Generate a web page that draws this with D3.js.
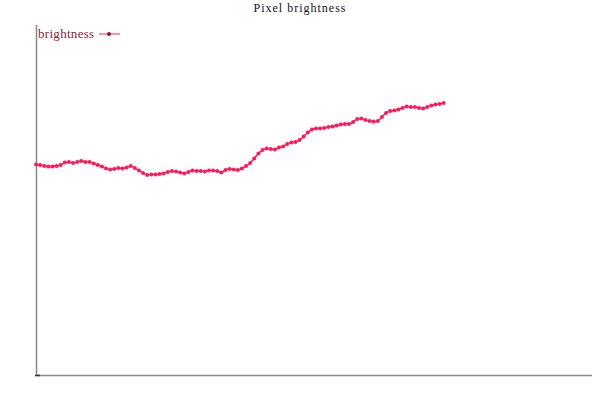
<!DOCTYPE html>
<html><head><meta charset="utf-8">
<script src="https://cdn.jsdelivr.net/npm/d3@7"></script>
<style>body{margin:0;background:#fff}svg{display:block}</style>
</head><body>
<script>
const title = "Pixel brightness";
const seriesName = "brightness";
const brightness = [153.4,153.0,152.3,151.9,151.9,152.3,153.0,154.8,155.2,154.5,
155.2,155.9,155.2,155.2,154.1,153.0,151.9,150.5,149.7,150.1,
150.8,150.5,151.2,152.3,150.8,149.0,147.2,145.7,146.1,146.1,
146.5,146.8,147.9,148.6,148.3,147.5,146.8,147.9,149.0,148.6,
148.6,148.3,149.0,149.0,148.6,147.5,149.4,150.1,149.7,149.4,
150.5,152.3,154.5,157.7,161.4,163.9,165.0,164.7,164.3,165.8,
166.5,168.3,169.4,169.8,171.2,173.8,176.7,178.9,179.6,179.6,
180.0,180.7,181.1,181.8,182.5,182.9,182.9,184.3,186.5,186.9,
185.8,185.1,184.7,185.1,188.0,190.9,192.4,192.7,193.4,194.5,
195.6,195.3,195.3,194.5,194.2,195.3,196.4,197.1,197.5,198.2];
const frames = brightness.map((_, i) => i);
const xDomain = [0, 135];
const yDomain = [0, 255];

const W = 600, H = 400;
const m = {left: 36, right: 8, top: 25, bottom: 25};
const svg = d3.select("body").append("svg").attr("width", W).attr("height", H);

const x = d3.scaleLinear().domain(xDomain).range([m.left, W - m.right]);
const y = d3.scaleLinear().domain(yDomain).range([H - m.bottom, m.top]);

svg.append("text").attr("x", W/2).attr("y", 12).attr("text-anchor", "middle")
  .attr("font-family", "Liberation Serif, serif").attr("font-size", 12).attr("fill", "#111")
  .attr("letter-spacing", 1)
  .text(title);

// axes
svg.append("line").attr("x1", m.left + 0.5).attr("x2", m.left + 0.5)
  .attr("y1", m.top).attr("y2", H - m.bottom).attr("stroke", "#888").attr("stroke-width", 1.5);
svg.append("line").attr("x1", m.left).attr("x2", W - m.right)
  .attr("y1", H - m.bottom + 0.5).attr("y2", H - m.bottom + 0.5).attr("stroke", "#888").attr("stroke-width", 1.5);
svg.append("line").attr("x1", m.left - 1).attr("x2", m.left + 4)
  .attr("y1", H - m.bottom + 0.5).attr("y2", H - m.bottom + 0.5).attr("stroke", "#333").attr("stroke-width", 1.5);

const color = "#ff1a5c";
const line = d3.line().x((d, i) => x(frames[i])).y(d => y(d)).curve(d3.curveMonotoneX);
svg.append("path").datum(brightness).attr("d", line)
  .attr("fill", "none").attr("stroke", color).attr("stroke-width", 1.5);
svg.append("g").selectAll("circle").data(brightness).join("circle")
  .attr("cx", (d, i) => x(frames[i])).attr("cy", d => y(d)).attr("r", 2)
  .attr("fill", color);

// legend
const lg = svg.append("g");
lg.append("text").attr("x", 38).attr("y", 38)
  .attr("font-family", "Liberation Serif, serif").attr("font-size", 13).attr("fill", "#8b1a3c")
  .attr("letter-spacing", 0.3)
  .text(seriesName);
lg.append("line").attr("x1", 99).attr("x2", 120).attr("y1", 34).attr("y2", 34)
  .attr("stroke", "#ff6a8e").attr("stroke-width", 1.5);
lg.append("circle").attr("cx", 109).attr("cy", 34).attr("r", 2).attr("fill", "#8b1a3c");
</script>
</body></html>
